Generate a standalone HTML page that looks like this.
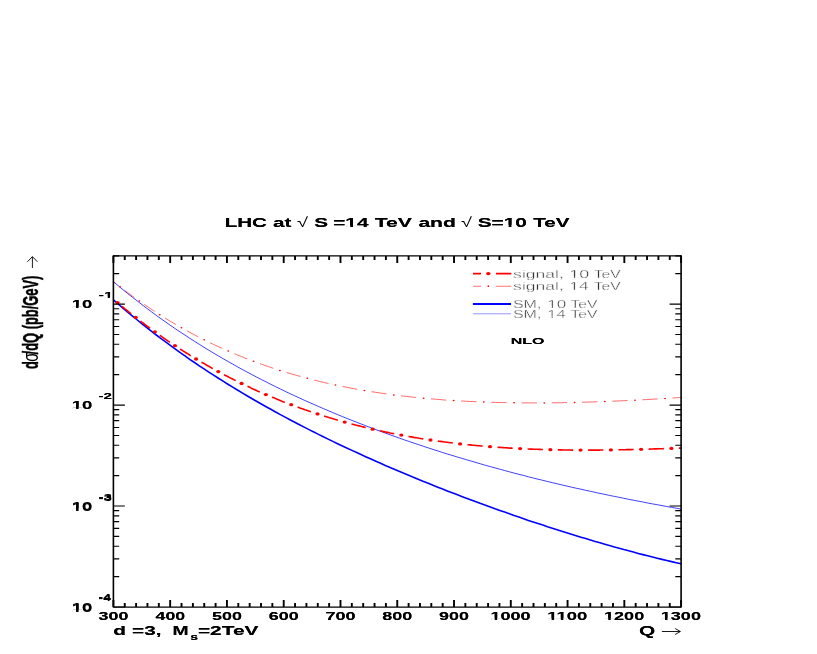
<!DOCTYPE html>
<html><head><meta charset="utf-8"><title>plot</title>
<style>html,body{margin:0;padding:0;background:#fff}svg{display:block;will-change:transform}text{font-family:"Liberation Sans",sans-serif}</style></head><body>
<svg width="817" height="654" viewBox="0 0 817 654">
<rect width="817" height="654" fill="#fff"/>
<g id="curves">
<path d="M113.4,281.7 L118.2,285.7 L122.9,289.6 L127.7,293.5 L132.5,297.3 L137.3,301.0 L142.0,304.7 L146.8,308.3 L151.6,311.9 L156.3,315.4 L161.1,318.8 L165.9,322.2 L170.6,325.5 L175.4,328.8 L180.2,332.0 L185.0,335.1 L189.7,338.2 L194.5,341.3 L199.3,344.3 L204.0,347.3 L208.8,350.2 L213.6,353.1 L218.4,355.9 L223.1,358.7 L227.9,361.4 L232.7,364.1 L237.4,366.8 L242.2,369.4 L247.0,372.0 L251.7,374.5 L256.5,377.0 L261.3,379.5 L266.1,381.9 L270.8,384.3 L275.6,386.7 L280.4,389.0 L285.1,391.3 L289.9,393.6 L294.7,395.8 L299.5,398.0 L304.2,400.2 L309.0,402.3 L313.8,404.4 L318.5,406.5 L323.3,408.6 L328.1,410.6 L332.8,412.6 L337.6,414.6 L342.4,416.6 L347.2,418.5 L351.9,420.4 L356.7,422.3 L361.5,424.1 L366.2,426.0 L371.0,427.8 L375.8,429.6 L380.6,431.3 L385.3,433.1 L390.1,434.8 L394.9,436.5 L399.6,438.2 L404.4,439.9 L409.2,441.5 L413.9,443.1 L418.7,444.7 L423.5,446.3 L428.3,447.9 L433.0,449.4 L437.8,450.9 L442.6,452.5 L447.3,454.0 L452.1,455.4 L456.9,456.9 L461.7,458.3 L466.4,459.7 L471.2,461.1 L476.0,462.5 L480.7,463.9 L485.5,465.3 L490.3,466.6 L495.0,467.9 L499.8,469.2 L504.6,470.5 L509.4,471.8 L514.1,473.1 L518.9,474.3 L523.7,475.5 L528.4,476.8 L533.2,478.0 L538.0,479.2 L542.8,480.3 L547.5,481.5 L552.3,482.6 L557.1,483.8 L561.8,484.9 L566.6,486.0 L571.4,487.1 L576.1,488.2 L580.9,489.2 L585.7,490.3 L590.5,491.3 L595.2,492.4 L600.0,493.4 L604.8,494.4 L609.5,495.4 L614.3,496.4 L619.1,497.3 L623.9,498.3 L628.6,499.3 L633.4,500.2 L638.2,501.1 L642.9,502.0 L647.7,503.0 L652.5,503.9 L657.2,504.7 L662.0,505.6 L666.8,506.5 L671.6,507.4 L676.3,508.2 L681.1,509.1" fill="none" stroke="#0000ff" stroke-width="0.75"/>
<path d="M113.4,281.5 L113.6,281.6 L113.8,281.8 L113.9,281.9 L114.1,282.0 L114.3,282.2 L114.5,282.3 L114.7,282.5 L114.9,282.6 L115.0,282.8 L115.2,282.9 L115.4,283.1 M124.7,290.3 L125.5,290.9 L126.4,291.6 L127.3,292.2 L128.2,292.9 L129.1,293.6 L130.0,294.2 L130.8,294.9 L131.7,295.5 L132.6,296.2 L133.5,296.8 L134.4,297.5 M144.2,304.4 L145.2,305.1 L146.1,305.7 L147.0,306.3 L148.0,307.0 L148.9,307.6 L149.8,308.2 L150.8,308.8 L151.7,309.5 L152.7,310.1 L153.6,310.7 L154.6,311.4 M165.0,317.9 L165.9,318.6 L166.9,319.2 L167.9,319.8 L168.9,320.4 L169.9,321.0 L170.9,321.6 L171.9,322.2 L172.9,322.8 L173.9,323.3 L174.9,323.9 L175.9,324.5 M186.9,330.7 L187.9,331.3 L189.0,331.9 L190.0,332.5 L191.0,333.0 L192.1,333.6 L193.1,334.1 L194.2,334.7 L195.3,335.3 L196.3,335.8 L197.4,336.4 L198.4,336.9 M210.0,342.7 L211.1,343.2 L212.2,343.8 L213.3,344.3 L214.4,344.8 L215.5,345.3 L216.6,345.8 L217.7,346.4 L218.9,346.9 L220.0,347.4 L221.1,347.9 L222.2,348.4 M234.4,353.7 L235.6,354.2 L236.7,354.7 L237.9,355.2 L239.0,355.6 L240.2,356.1 L241.3,356.6 L242.5,357.0 L243.7,357.5 L244.8,358.0 L246.0,358.4 L247.2,358.9 M260.0,363.7 L261.2,364.1 L262.4,364.5 L263.6,364.9 L264.8,365.4 L266.0,365.8 L267.2,366.2 L268.4,366.6 L269.6,367.0 L270.9,367.5 L272.1,367.9 L273.3,368.3 M286.6,372.5 L287.8,372.8 L289.1,373.2 L290.4,373.6 L291.6,374.0 L292.9,374.3 L294.1,374.7 L295.4,375.1 L296.7,375.4 L297.9,375.8 L299.2,376.1 L300.5,376.5 M314.2,380.1 L315.5,380.4 L316.8,380.7 L318.1,381.0 L319.4,381.4 L320.7,381.7 L322.0,382.0 L323.3,382.3 L324.6,382.6 L325.9,382.9 L327.2,383.2 L328.5,383.5 M342.6,386.5 L343.9,386.8 L345.3,387.0 L346.6,387.3 L347.9,387.5 L349.2,387.8 L350.6,388.0 L351.9,388.3 L353.2,388.5 L354.6,388.8 L355.9,389.0 L357.2,389.3 M371.6,391.7 L373.0,391.9 L374.3,392.1 L375.7,392.3 L377.0,392.5 L378.4,392.7 L379.8,392.9 L381.1,393.1 L382.5,393.3 L383.8,393.5 L385.2,393.7 L386.5,393.9 M401.2,395.8 L402.5,396.0 L403.9,396.1 L405.3,396.3 L406.6,396.4 L408.0,396.6 L409.4,396.8 L410.7,396.9 L412.1,397.0 L413.5,397.2 L414.9,397.3 L416.2,397.5 M431.0,398.9 L432.4,399.0 L433.8,399.1 L435.2,399.2 L436.5,399.3 L437.9,399.4 L439.3,399.5 L440.7,399.6 L442.1,399.8 L443.4,399.9 L444.8,400.0 L446.2,400.1 M461.1,401.0 L462.5,401.1 L463.9,401.1 L465.2,401.2 L466.6,401.3 L468.0,401.4 L469.4,401.4 L470.8,401.5 L472.2,401.6 L473.6,401.6 L475.0,401.7 L476.4,401.7 M491.3,402.3 L492.7,402.3 L494.1,402.4 L495.4,402.4 L496.8,402.5 L498.2,402.5 L499.6,402.5 L501.0,402.6 L502.4,402.6 L503.8,402.6 L505.2,402.6 L506.6,402.7 M521.5,402.9 L522.9,402.9 L524.3,402.9 L525.7,402.9 L527.1,402.9 L528.5,402.9 L529.9,402.9 L531.3,402.9 L532.7,402.9 L534.1,402.9 L535.5,402.9 L536.8,402.9 M551.8,402.8 L553.2,402.8 L554.6,402.8 L556.0,402.8 L557.4,402.8 L558.8,402.7 L560.2,402.7 L561.5,402.7 L562.9,402.7 L564.3,402.6 L565.7,402.6 L567.1,402.6 M582.0,402.2 L583.4,402.2 L584.8,402.2 L586.2,402.1 L587.6,402.1 L589.0,402.0 L590.4,402.0 L591.8,402.0 L593.2,401.9 L594.6,401.9 L596.0,401.8 L597.4,401.8 M612.3,401.2 L613.7,401.2 L615.0,401.1 L616.4,401.0 L617.8,401.0 L619.2,400.9 L620.6,400.9 L622.0,400.8 L623.4,400.7 L624.8,400.7 L626.2,400.6 L627.6,400.5 M642.4,399.8 L643.8,399.7 L645.2,399.6 L646.6,399.6 L648.0,399.5 L649.4,399.4 L650.8,399.3 L652.2,399.2 L653.5,399.2 L654.9,399.1 L656.3,399.0 L657.7,398.9 M672.6,398.0 L673.4,398.0 L674.1,397.9 L674.9,397.9 L675.7,397.8 L676.5,397.8 L677.2,397.7 L678.0,397.7 L678.8,397.6 L679.6,397.6 L680.3,397.5 L681.1,397.5" fill="none" stroke="#ff0000" stroke-width="0.6"/>
<ellipse cx="120.0" cy="286.7" rx="0.95" ry="0.75" fill="#ff0000"/>
<ellipse cx="139.3" cy="301.0" rx="0.95" ry="0.75" fill="#ff0000"/>
<ellipse cx="159.7" cy="314.7" rx="0.95" ry="0.75" fill="#ff0000"/>
<ellipse cx="181.4" cy="327.7" rx="0.95" ry="0.75" fill="#ff0000"/>
<ellipse cx="204.2" cy="339.8" rx="0.95" ry="0.75" fill="#ff0000"/>
<ellipse cx="228.3" cy="351.1" rx="0.95" ry="0.75" fill="#ff0000"/>
<ellipse cx="253.5" cy="361.3" rx="0.95" ry="0.75" fill="#ff0000"/>
<ellipse cx="279.9" cy="370.4" rx="0.95" ry="0.75" fill="#ff0000"/>
<ellipse cx="307.3" cy="378.3" rx="0.95" ry="0.75" fill="#ff0000"/>
<ellipse cx="335.5" cy="385.0" rx="0.95" ry="0.75" fill="#ff0000"/>
<ellipse cx="364.4" cy="390.5" rx="0.95" ry="0.75" fill="#ff0000"/>
<ellipse cx="393.8" cy="394.9" rx="0.95" ry="0.75" fill="#ff0000"/>
<ellipse cx="423.6" cy="398.2" rx="0.95" ry="0.75" fill="#ff0000"/>
<ellipse cx="453.6" cy="400.5" rx="0.95" ry="0.75" fill="#ff0000"/>
<ellipse cx="483.8" cy="402.0" rx="0.95" ry="0.75" fill="#ff0000"/>
<ellipse cx="514.1" cy="402.8" rx="0.95" ry="0.75" fill="#ff0000"/>
<ellipse cx="544.3" cy="402.9" rx="0.95" ry="0.75" fill="#ff0000"/>
<ellipse cx="574.6" cy="402.4" rx="0.95" ry="0.75" fill="#ff0000"/>
<ellipse cx="604.8" cy="401.5" rx="0.95" ry="0.75" fill="#ff0000"/>
<ellipse cx="635.0" cy="400.2" rx="0.95" ry="0.75" fill="#ff0000"/>
<ellipse cx="665.1" cy="398.5" rx="0.95" ry="0.75" fill="#ff0000"/>
<path d="M113.4,299.9 L118.2,304.0 L122.9,308.1 L127.7,312.2 L132.5,316.1 L137.3,320.0 L142.0,323.9 L146.8,327.6 L151.6,331.4 L156.3,335.0 L161.1,338.6 L165.9,342.2 L170.6,345.7 L175.4,349.2 L180.2,352.6 L185.0,355.9 L189.7,359.3 L194.5,362.5 L199.3,365.8 L204.0,368.9 L208.8,372.1 L213.6,375.2 L218.4,378.2 L223.1,381.2 L227.9,384.2 L232.7,387.1 L237.4,390.0 L242.2,392.9 L247.0,395.7 L251.7,398.5 L256.5,401.3 L261.3,404.0 L266.1,406.7 L270.8,409.3 L275.6,412.0 L280.4,414.6 L285.1,417.1 L289.9,419.7 L294.7,422.2 L299.5,424.7 L304.2,427.1 L309.0,429.6 L313.8,432.0 L318.5,434.4 L323.3,436.7 L328.1,439.1 L332.8,441.4 L337.6,443.7 L342.4,445.9 L347.2,448.2 L351.9,450.4 L356.7,452.6 L361.5,454.8 L366.2,456.9 L371.0,459.1 L375.8,461.2 L380.6,463.3 L385.3,465.4 L390.1,467.4 L394.9,469.5 L399.6,471.5 L404.4,473.5 L409.2,475.5 L413.9,477.5 L418.7,479.5 L423.5,481.4 L428.3,483.3 L433.0,485.3 L437.8,487.2 L442.6,489.0 L447.3,490.9 L452.1,492.8 L456.9,494.6 L461.7,496.4 L466.4,498.2 L471.2,500.0 L476.0,501.8 L480.7,503.6 L485.5,505.3 L490.3,507.0 L495.0,508.8 L499.8,510.5 L504.6,512.1 L509.4,513.8 L514.1,515.5 L518.9,517.1 L523.7,518.8 L528.4,520.4 L533.2,522.0 L538.0,523.6 L542.8,525.1 L547.5,526.7 L552.3,528.2 L557.1,529.8 L561.8,531.3 L566.6,532.8 L571.4,534.3 L576.1,535.7 L580.9,537.2 L585.7,538.6 L590.5,540.1 L595.2,541.5 L600.0,542.8 L604.8,544.2 L609.5,545.6 L614.3,546.9 L619.1,548.2 L623.9,549.6 L628.6,550.8 L633.4,552.1 L638.2,553.4 L642.9,554.6 L647.7,555.8 L652.5,557.0 L657.2,558.2 L662.0,559.4 L666.8,560.5 L671.6,561.6 L676.3,562.7 L681.1,563.8" fill="none" stroke="#0000ff" stroke-width="1.6"/>
<path d="M121.9,306.3 L122.7,307.0 L123.6,307.7 L124.4,308.4 L125.2,309.1 L126.1,309.7 L126.9,310.4 L127.8,311.1 L128.6,311.8 L129.4,312.5 L130.3,313.2 L131.1,313.8 M140.4,321.0 L141.2,321.7 L142.1,322.4 L143.0,323.0 L143.9,323.7 L144.7,324.4 L145.6,325.0 L146.5,325.7 L147.4,326.3 L148.3,327.0 L149.2,327.7 L150.1,328.3 M159.8,335.3 L160.7,335.9 L161.6,336.6 L162.5,337.2 L163.4,337.9 L164.4,338.5 L165.3,339.1 L166.2,339.8 L167.1,340.4 L168.1,341.1 L169.0,341.7 L169.9,342.3 M180.1,349.0 L181.1,349.7 L182.1,350.3 L183.0,350.9 L184.0,351.5 L185.0,352.1 L185.9,352.7 L186.9,353.3 L187.9,353.9 L188.9,354.5 L189.8,355.2 L190.8,355.8 M201.5,362.2 L202.5,362.8 L203.6,363.3 L204.6,363.9 L205.6,364.5 L206.6,365.1 L207.6,365.7 L208.6,366.3 L209.7,366.8 L210.7,367.4 L211.7,368.0 L212.8,368.6 M224.0,374.6 L225.0,375.2 L226.1,375.7 L227.2,376.3 L228.2,376.8 L229.3,377.4 L230.4,377.9 L231.4,378.5 L232.5,379.0 L233.6,379.6 L234.7,380.1 L235.7,380.6 M247.5,386.3 L248.6,386.8 L249.7,387.3 L250.8,387.9 L251.9,388.4 L253.0,388.9 L254.2,389.4 L255.3,389.9 L256.4,390.4 L257.5,390.9 L258.7,391.4 L259.8,391.9 M272.0,397.2 L273.2,397.6 L274.4,398.1 L275.5,398.6 L276.7,399.1 L277.8,399.5 L279.0,400.0 L280.2,400.5 L281.3,400.9 L282.5,401.4 L283.7,401.9 L284.9,402.3 M297.6,407.1 L298.8,407.5 L300.0,408.0 L301.2,408.4 L302.4,408.8 L303.6,409.2 L304.8,409.7 L306.1,410.1 L307.3,410.5 L308.5,410.9 L309.7,411.3 L310.9,411.7 M324.1,416.0 L325.4,416.4 L326.6,416.8 L327.9,417.2 L329.1,417.6 L330.4,417.9 L331.6,418.3 L332.9,418.7 L334.1,419.1 L335.4,419.4 L336.6,419.8 L337.9,420.2 M351.5,423.9 L352.8,424.3 L354.1,424.6 L355.4,424.9 L356.7,425.3 L358.0,425.6 L359.2,425.9 L360.5,426.2 L361.8,426.6 L363.1,426.9 L364.4,427.2 L365.7,427.5 M379.7,430.7 L381.0,431.0 L382.3,431.3 L383.6,431.6 L384.9,431.9 L386.3,432.1 L387.6,432.4 L388.9,432.7 L390.2,433.0 L391.5,433.2 L392.9,433.5 L394.2,433.8 M408.5,436.4 L409.8,436.7 L411.2,436.9 L412.5,437.1 L413.9,437.4 L415.2,437.6 L416.5,437.8 L417.9,438.0 L419.2,438.3 L420.6,438.5 L421.9,438.7 L423.3,438.9 M437.8,441.1 L439.2,441.3 L440.5,441.4 L441.9,441.6 L443.2,441.8 L444.6,442.0 L446.0,442.2 L447.3,442.3 L448.7,442.5 L450.1,442.7 L451.4,442.8 L452.8,443.0 M467.5,444.7 L468.9,444.8 L470.2,444.9 L471.6,445.1 L473.0,445.2 L474.4,445.3 L475.7,445.5 L477.1,445.6 L478.5,445.7 L479.9,445.8 L481.3,446.0 L482.6,446.1 M497.5,447.3 L498.8,447.4 L500.2,447.4 L501.6,447.5 L503.0,447.6 L504.4,447.7 L505.8,447.8 L507.2,447.9 L508.5,448.0 L509.9,448.1 L511.3,448.1 L512.7,448.2 M527.6,449.0 L529.0,449.0 L530.4,449.1 L531.8,449.1 L533.2,449.2 L534.6,449.2 L535.9,449.3 L537.3,449.3 L538.7,449.4 L540.1,449.4 L541.5,449.5 L542.9,449.5 M557.8,449.9 L559.2,449.9 L560.6,449.9 L562.0,449.9 L563.4,450.0 L564.8,450.0 L566.2,450.0 L567.6,450.0 L569.0,450.0 L570.4,450.0 L571.8,450.1 L573.2,450.1 M588.1,450.1 L589.5,450.1 L590.9,450.1 L592.3,450.1 L593.7,450.1 L595.1,450.1 L596.5,450.1 L597.8,450.1 L599.2,450.1 L600.6,450.0 L602.0,450.0 L603.4,450.0 M618.4,449.8 L619.8,449.8 L621.1,449.8 L622.5,449.7 L623.9,449.7 L625.3,449.7 L626.7,449.6 L628.1,449.6 L629.5,449.6 L630.9,449.6 L632.3,449.5 L633.7,449.5 M648.6,449.1 L650.0,449.1 L651.4,449.0 L652.8,449.0 L654.2,448.9 L655.6,448.9 L657.0,448.9 L658.3,448.8 L659.7,448.8 L661.1,448.7 L662.5,448.7 L663.9,448.6 M678.8,448.2 L679.0,448.2 L679.3,448.1 L679.5,448.1 L679.7,448.1 L679.9,448.1 L680.1,448.1 L680.3,448.1 L680.5,448.1 L680.7,448.1 L680.9,448.1 L681.1,448.1" fill="none" stroke="#ff0000" stroke-width="1.6"/>
<ellipse cx="117.5" cy="302.6" rx="2.10" ry="1.65" fill="#ff0000"/>
<ellipse cx="135.7" cy="317.4" rx="2.10" ry="1.65" fill="#ff0000"/>
<ellipse cx="154.9" cy="331.8" rx="2.10" ry="1.65" fill="#ff0000"/>
<ellipse cx="175.0" cy="345.7" rx="2.10" ry="1.65" fill="#ff0000"/>
<ellipse cx="196.1" cy="359.0" rx="2.10" ry="1.65" fill="#ff0000"/>
<ellipse cx="218.3" cy="371.6" rx="2.10" ry="1.65" fill="#ff0000"/>
<ellipse cx="241.6" cy="383.5" rx="2.10" ry="1.65" fill="#ff0000"/>
<ellipse cx="265.9" cy="394.6" rx="2.10" ry="1.65" fill="#ff0000"/>
<ellipse cx="291.2" cy="404.7" rx="2.10" ry="1.65" fill="#ff0000"/>
<ellipse cx="317.5" cy="413.9" rx="2.10" ry="1.65" fill="#ff0000"/>
<ellipse cx="344.7" cy="422.1" rx="2.10" ry="1.65" fill="#ff0000"/>
<ellipse cx="372.7" cy="429.2" rx="2.10" ry="1.65" fill="#ff0000"/>
<ellipse cx="401.3" cy="435.1" rx="2.10" ry="1.65" fill="#ff0000"/>
<ellipse cx="430.5" cy="440.0" rx="2.10" ry="1.65" fill="#ff0000"/>
<ellipse cx="460.1" cy="443.9" rx="2.10" ry="1.65" fill="#ff0000"/>
<ellipse cx="490.0" cy="446.7" rx="2.10" ry="1.65" fill="#ff0000"/>
<ellipse cx="520.1" cy="448.6" rx="2.10" ry="1.65" fill="#ff0000"/>
<ellipse cx="550.4" cy="449.7" rx="2.10" ry="1.65" fill="#ff0000"/>
<ellipse cx="580.6" cy="450.1" rx="2.10" ry="1.65" fill="#ff0000"/>
<ellipse cx="610.9" cy="449.9" rx="2.10" ry="1.65" fill="#ff0000"/>
<ellipse cx="641.1" cy="449.3" rx="2.10" ry="1.65" fill="#ff0000"/>
<ellipse cx="671.4" cy="448.4" rx="2.10" ry="1.65" fill="#ff0000"/>
</g>
<g id="legend" fill="none">
<path d="M473,273.55H481 M496,273.55H511.3" stroke="#ff0000" stroke-width="1.7"/><ellipse cx="488.3" cy="273.55" rx="2.2" ry="1.65" fill="#ff0000"/>
<path d="M473,286.25H481 M496,286.25H511.3" stroke="#ff0000" stroke-width="0.55"/><ellipse cx="488.3" cy="286.2" rx="0.8" ry="0.9" fill="#ff0000"/>
<path d="M472.9,304H511" stroke="#0000ff" stroke-width="1.8"/>
<path d="M472.9,313.8H511" stroke="#0000ff" stroke-width="0.42"/>
</g>
<g id="bt" transform="translate(0,-0.2)">
<g id="title">
<text transform="translate(224.72,227.1) scale(1.631,1)" font-size="12.6" font-weight="bold" fill="#000">LHC</text>
<text transform="translate(272.88,227.1) scale(1.647,1)" font-size="12.6" font-weight="bold" fill="#000">at</text>
<text transform="translate(314.18,227.1) scale(1.653,1)" font-size="12.6" font-weight="bold" fill="#000">S</text>
<g transform="translate(333.23,227.1) scale(1.647,1)"><text font-size="12.6" font-weight="bold" fill="#000">=14</text><rect x="7.90" y="-2.15" width="2.39" height="3.79" fill="#fff"/><rect x="12.01" y="-2.15" width="2.22" height="3.79" fill="#fff"/></g>
<text transform="translate(374.65,227.1) scale(1.677,1)" font-size="12.6" font-weight="bold" fill="#000">TeV</text>
<text transform="translate(418.38,227.1) scale(1.676,1)" font-size="12.6" font-weight="bold" fill="#000">and</text>
<g transform="translate(477.68,227.1) scale(1.656,1)"><text font-size="12.6" font-weight="bold" fill="#000">S=10</text><rect x="16.30" y="-2.15" width="2.39" height="3.79" fill="#fff"/><rect x="20.41" y="-2.15" width="2.22" height="3.79" fill="#fff"/></g>
<text transform="translate(533.25,227.1) scale(1.638,1)" font-size="12.6" font-weight="bold" fill="#000">TeV</text>
</g><g id="xlabels">
<text transform="translate(98.6,619.9) scale(1.735,1)" font-size="10.3" font-weight="bold" fill="#000">300</text>
<text transform="translate(155.62,619.9) scale(1.72,1)" font-size="10.3" font-weight="bold" fill="#000">400</text>
<text transform="translate(212.01,619.9) scale(1.743,1)" font-size="10.3" font-weight="bold" fill="#000">500</text>
<text transform="translate(268.79,619.9) scale(1.743,1)" font-size="10.3" font-weight="bold" fill="#000">600</text>
<text transform="translate(325.43,619.9) scale(1.751,1)" font-size="10.3" font-weight="bold" fill="#000">700</text>
<text transform="translate(382.32,619.9) scale(1.743,1)" font-size="10.3" font-weight="bold" fill="#000">800</text>
<text transform="translate(439.09,619.9) scale(1.743,1)" font-size="10.3" font-weight="bold" fill="#000">900</text>
<g transform="translate(490.49,619.9) scale(1.754,1)"><text font-size="10.3" font-weight="bold" fill="#000">1000</text><rect x="0.45" y="-1.76" width="1.95" height="3.10" fill="#fff"/><rect x="3.82" y="-1.76" width="1.82" height="3.10" fill="#fff"/></g>
<g transform="translate(547.26,619.9) scale(1.797,1)"><text font-size="10.3" font-weight="bold" fill="#000">1100</text><rect x="0.45" y="-1.76" width="1.95" height="3.10" fill="#fff"/><rect x="3.82" y="-1.76" width="1.82" height="3.10" fill="#fff"/><rect x="5.60" y="-1.76" width="1.95" height="3.10" fill="#fff"/><rect x="8.96" y="-1.76" width="1.82" height="3.10" fill="#fff"/></g>
<g transform="translate(604.03,619.9) scale(1.754,1)"><text font-size="10.3" font-weight="bold" fill="#000">1200</text><rect x="0.45" y="-1.76" width="1.95" height="3.10" fill="#fff"/><rect x="3.82" y="-1.76" width="1.82" height="3.10" fill="#fff"/></g>
<g transform="translate(660.8,619.9) scale(1.754,1)"><text font-size="10.3" font-weight="bold" fill="#000">1300</text><rect x="0.45" y="-1.76" width="1.95" height="3.10" fill="#fff"/><rect x="3.82" y="-1.76" width="1.82" height="3.10" fill="#fff"/></g>
</g><g id="ylabels">
<g transform="translate(71.75,308.1) scale(1.728,1)"><text font-size="10.7" font-weight="bold" fill="#000">10</text><rect x="0.47" y="-1.83" width="2.03" height="3.22" fill="#fff"/><rect x="3.97" y="-1.83" width="1.89" height="3.22" fill="#fff"/></g>
<g transform="translate(98.47,298.2) scale(1.896,1)"><text font-size="8.6" font-weight="bold" fill="#000">-1</text><rect x="3.24" y="-1.47" width="1.63" height="2.59" fill="#fff"/><rect x="6.05" y="-1.47" width="1.52" height="2.59" fill="#fff"/></g>
<g transform="translate(71.75,409.25) scale(1.728,1)"><text font-size="10.7" font-weight="bold" fill="#000">10</text><rect x="0.47" y="-1.83" width="2.03" height="3.22" fill="#fff"/><rect x="3.97" y="-1.83" width="1.89" height="3.22" fill="#fff"/></g>
<text transform="translate(98.47,399.1) scale(1.773,1)" font-size="8.6" font-weight="bold" fill="#000">-2</text>
<g transform="translate(71.75,510.3) scale(1.728,1)"><text font-size="10.7" font-weight="bold" fill="#000">10</text><rect x="0.47" y="-1.83" width="2.03" height="3.22" fill="#fff"/><rect x="3.97" y="-1.83" width="1.89" height="3.22" fill="#fff"/></g>
<text transform="translate(98.47,500.4) scale(1.773,1)" font-size="8.6" font-weight="bold" fill="#000">-3</text>
<g transform="translate(71.75,611.6) scale(1.728,1)"><text font-size="10.7" font-weight="bold" fill="#000">10</text><rect x="0.47" y="-1.83" width="2.03" height="3.22" fill="#fff"/><rect x="3.97" y="-1.83" width="1.89" height="3.22" fill="#fff"/></g>
<text transform="translate(98.6,600.6) scale(1.605,1)" font-size="8.6" font-weight="bold" fill="#000">-4</text>
</g><g id="bottom">
<text transform="translate(113.33,634.8) scale(1.678,1)" font-size="12.4" font-weight="bold" fill="#000">d</text>
<text transform="translate(132.03,634.8) scale(1.679,1)" font-size="12.4" font-weight="bold" fill="#000">=3,</text>
<text transform="translate(172.55,634.8) scale(1.555,1)" font-size="12.4" font-weight="bold" fill="#000">M</text>
<text transform="translate(190.2,639.9) scale(1.457,1)" font-size="9.6" font-weight="bold" fill="#000">s</text>
<text transform="translate(197.93,634.8) scale(1.684,1)" font-size="12.4" font-weight="bold" fill="#000">=2TeV</text>
<text transform="translate(639.12,634.8) scale(1.67,1)" font-size="12.5" font-weight="bold" fill="#000">Q</text>
</g><g id="nlo">
<text transform="translate(510.68,344.1) scale(1.651,1)" font-size="9.7" font-weight="bold" fill="#000">NLO</text>
</g></g>
<use href="#bt" y="0.4"/>
<g id="symbols">
<text transform="translate(296.9,227.3) scale(1.492,1)" font-size="13.5" font-family="Liberation Serif" fill="#000">√</text>
<text transform="translate(460.9,227.3) scale(1.482,1)" font-size="13.5" font-family="Liberation Serif" fill="#000">√</text>
<path d="M661.9,631.5H680.2 M675.2,628.5 L680.4,631.5 L675.2,634.5" stroke="#000" stroke-width="0.9" fill="none"/>
</g>
<g id="legendtext">
<text transform="translate(513.12,277.6) scale(1.67,1)" font-size="10.5" fill="#333" stroke="#fff" stroke-width="0.3">signal,</text>
<g transform="translate(569.2,277.6) scale(1.716,1)"><text font-size="10.5" fill="#333" stroke="#fff" stroke-width="0.3">10</text><rect x="0.62" y="-1.59" width="2.03" height="2.95" fill="#fff"/><rect x="3.57" y="-1.59" width="1.94" height="2.95" fill="#fff"/></g>
<text transform="translate(593.77,277.6) scale(1.484,1)" font-size="10.5" fill="#333" stroke="#fff" stroke-width="0.3">TeV</text>
<text transform="translate(513.12,290.3) scale(1.67,1)" font-size="10.5" fill="#333" stroke="#fff" stroke-width="0.3">signal,</text>
<g transform="translate(569.33,290.3) scale(1.653,1)"><text font-size="10.5" fill="#333" stroke="#fff" stroke-width="0.3">14</text><rect x="0.62" y="-1.59" width="2.03" height="2.95" fill="#fff"/><rect x="3.57" y="-1.59" width="1.94" height="2.95" fill="#fff"/></g>
<text transform="translate(593.77,290.3) scale(1.484,1)" font-size="10.5" fill="#333" stroke="#fff" stroke-width="0.3">TeV</text>
<text transform="translate(512.9,307.5) scale(1.541,1)" font-size="10.4" fill="#333" stroke="#fff" stroke-width="0.3">SM,</text>
<g transform="translate(547.23,307.5) scale(1.647,1)"><text font-size="10.4" fill="#333" stroke="#fff" stroke-width="0.3">10</text><rect x="0.61" y="-1.57" width="2.01" height="2.93" fill="#fff"/><rect x="3.53" y="-1.57" width="1.92" height="2.93" fill="#fff"/></g>
<text transform="translate(570.48,307.5) scale(1.502,1)" font-size="10.4" fill="#333" stroke="#fff" stroke-width="0.3">TeV</text>
<text transform="translate(512.9,317.5) scale(1.541,1)" font-size="10.4" fill="#333" stroke="#fff" stroke-width="0.3">SM,</text>
<g transform="translate(547.23,317.5) scale(1.585,1)"><text font-size="10.4" fill="#333" stroke="#fff" stroke-width="0.3">14</text><rect x="0.61" y="-1.57" width="2.01" height="2.93" fill="#fff"/><rect x="3.53" y="-1.57" width="1.92" height="2.93" fill="#fff"/></g>
<text transform="translate(570.48,317.5) scale(1.502,1)" font-size="10.4" fill="#333" stroke="#fff" stroke-width="0.3">TeV</text>
</g>
<g id="ylabel" transform="translate(37.9,368.6) rotate(-90) scale(1,1.70)">
<g stroke="#000" stroke-width="0.3">
<text x="-0.5" y="0" font-size="12.9" font-weight="bold">d</text>
<text transform="translate(6.75,0) scale(1.15,1)" font-size="12.8" font-family="Liberation Serif" stroke="none">σ</text>
<text x="14.2" y="0" font-size="12.9" font-weight="bold">/dQ (pb/GeV)</text>
</g>
</g>
<path d="M32.4,268V256.8 M27.4,261.8 L32.4,256.6 L37.4,261.8" stroke="#000" stroke-width="0.9" fill="none"/>
<g id="axes" stroke="#000" fill="none">
<path d="M113.4,255.9H681.1 M113.4,607.0H681.1" stroke-width="1.25"/>
<path d="M113.4,255.3V607.6 M681.1,255.3V607.6" stroke-width="1.6"/>
<path d="M113.40,607.0v-7.0 M113.40,255.9v7.0 M124.75,607.0v-4.0 M124.75,255.9v4.0 M136.11,607.0v-4.0 M136.11,255.9v4.0 M147.46,607.0v-4.0 M147.46,255.9v4.0 M158.82,607.0v-4.0 M158.82,255.9v4.0 M170.17,607.0v-7.0 M170.17,255.9v7.0 M181.52,607.0v-4.0 M181.52,255.9v4.0 M192.88,607.0v-4.0 M192.88,255.9v4.0 M204.23,607.0v-4.0 M204.23,255.9v4.0 M215.59,607.0v-4.0 M215.59,255.9v4.0 M226.94,607.0v-7.0 M226.94,255.9v7.0 M238.29,607.0v-4.0 M238.29,255.9v4.0 M249.65,607.0v-4.0 M249.65,255.9v4.0 M261.00,607.0v-4.0 M261.00,255.9v4.0 M272.36,607.0v-4.0 M272.36,255.9v4.0 M283.71,607.0v-7.0 M283.71,255.9v7.0 M295.06,607.0v-4.0 M295.06,255.9v4.0 M306.42,607.0v-4.0 M306.42,255.9v4.0 M317.77,607.0v-4.0 M317.77,255.9v4.0 M329.13,607.0v-4.0 M329.13,255.9v4.0 M340.48,607.0v-7.0 M340.48,255.9v7.0 M351.83,607.0v-4.0 M351.83,255.9v4.0 M363.19,607.0v-4.0 M363.19,255.9v4.0 M374.54,607.0v-4.0 M374.54,255.9v4.0 M385.90,607.0v-4.0 M385.90,255.9v4.0 M397.25,607.0v-7.0 M397.25,255.9v7.0 M408.60,607.0v-4.0 M408.60,255.9v4.0 M419.96,607.0v-4.0 M419.96,255.9v4.0 M431.31,607.0v-4.0 M431.31,255.9v4.0 M442.67,607.0v-4.0 M442.67,255.9v4.0 M454.02,607.0v-7.0 M454.02,255.9v7.0 M465.37,607.0v-4.0 M465.37,255.9v4.0 M476.73,607.0v-4.0 M476.73,255.9v4.0 M488.08,607.0v-4.0 M488.08,255.9v4.0 M499.44,607.0v-4.0 M499.44,255.9v4.0 M510.79,607.0v-7.0 M510.79,255.9v7.0 M522.14,607.0v-4.0 M522.14,255.9v4.0 M533.50,607.0v-4.0 M533.50,255.9v4.0 M544.85,607.0v-4.0 M544.85,255.9v4.0 M556.21,607.0v-4.0 M556.21,255.9v4.0 M567.56,607.0v-7.0 M567.56,255.9v7.0 M578.91,607.0v-4.0 M578.91,255.9v4.0 M590.27,607.0v-4.0 M590.27,255.9v4.0 M601.62,607.0v-4.0 M601.62,255.9v4.0 M612.98,607.0v-4.0 M612.98,255.9v4.0 M624.33,607.0v-7.0 M624.33,255.9v7.0 M635.68,607.0v-4.0 M635.68,255.9v4.0 M647.04,607.0v-4.0 M647.04,255.9v4.0 M658.39,607.0v-4.0 M658.39,255.9v4.0 M669.75,607.0v-4.0 M669.75,255.9v4.0 M681.10,607.0v-7.0 M681.10,255.9v7.0" stroke-width="1.9"/>
<path d="M113.4,607.00h11.5 M681.1,607.00h-11.5 M113.4,576.60h5.8 M681.1,576.60h-5.8 M113.4,558.82h5.8 M681.1,558.82h-5.8 M113.4,546.21h5.8 M681.1,546.21h-5.8 M113.4,536.42h5.8 M681.1,536.42h-5.8 M113.4,528.43h5.8 M681.1,528.43h-5.8 M113.4,521.67h5.8 M681.1,521.67h-5.8 M113.4,515.81h5.8 M681.1,515.81h-5.8 M113.4,510.65h5.8 M681.1,510.65h-5.8 M113.4,506.03h11.5 M681.1,506.03h-11.5 M113.4,475.63h5.8 M681.1,475.63h-5.8 M113.4,457.85h5.8 M681.1,457.85h-5.8 M113.4,445.23h5.8 M681.1,445.23h-5.8 M113.4,435.45h5.8 M681.1,435.45h-5.8 M113.4,427.45h5.8 M681.1,427.45h-5.8 M113.4,420.69h5.8 M681.1,420.69h-5.8 M113.4,414.84h5.8 M681.1,414.84h-5.8 M113.4,409.67h5.8 M681.1,409.67h-5.8 M113.4,405.05h11.5 M681.1,405.05h-11.5 M113.4,374.66h5.8 M681.1,374.66h-5.8 M113.4,356.87h5.8 M681.1,356.87h-5.8 M113.4,344.26h5.8 M681.1,344.26h-5.8 M113.4,334.47h5.8 M681.1,334.47h-5.8 M113.4,326.48h5.8 M681.1,326.48h-5.8 M113.4,319.72h5.8 M681.1,319.72h-5.8 M113.4,313.86h5.8 M681.1,313.86h-5.8 M113.4,308.70h5.8 M681.1,308.70h-5.8 M113.4,304.08h11.5 M681.1,304.08h-11.5 M113.4,273.68h5.8 M681.1,273.68h-5.8 M113.4,255.90h5.8 M681.1,255.90h-5.8" stroke-width="1.15"/>
</g>
</svg></body></html>
